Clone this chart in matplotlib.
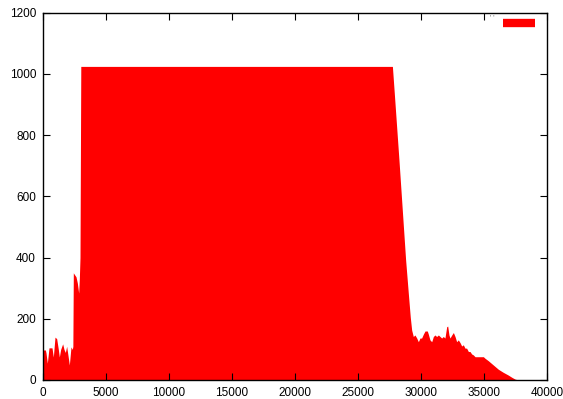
import matplotlib

matplotlib.use("Agg")
import matplotlib.pyplot as plt

# Profile sampled along the run: position vs. count (saturates at 1024).
pos = [
    0, 80, 190, 240, 344, 476, 714, 820, 952, 1085, 1217, 1296, 1402,
    1561, 1667, 1772, 1878, 2037, 2090, 2222, 2328, 2370, 2407, 2487,
    2619, 2725, 2831, 2884, 2937, 3000, 3040,
    27730, 27880, 28250, 28780, 29000, 29150, 29260, 29390, 29520,
    29660, 29790, 29920, 30050, 30190, 30320, 30500, 30580, 30710,
    30850, 30980, 31110, 31240, 31380, 31510, 31640, 31770, 31900,
    32040, 32120, 32220, 32300, 32440, 32570, 32700, 32830, 32960,
    33100, 33230, 33360, 33490, 33620, 33760, 33890, 34020, 34150,
    34290, 34950, 35080, 35340, 35740, 36140, 36530, 36930, 37200,
    37460, 37720,
]
count = [
    98, 98, 98, 88, 55, 105, 105, 75, 140, 135, 100, 75, 100,
    118, 100, 90, 110, 65, 49, 108, 100, 110, 350, 345,
    337, 317, 284, 330, 400, 1024, 1024,
    1024, 937, 719, 392, 280, 205, 163, 142, 147,
    137, 125, 137, 137, 150, 160, 160, 150, 131,
    125, 142, 147, 142, 147, 142, 137, 142, 137,
    174, 176, 147, 137, 147, 155, 142, 125, 131,
    122, 111, 115, 104, 104, 93, 93, 85, 82,
    76, 76, 71, 63, 49, 35, 25, 16, 9,
    3, 0,
]

x_ticks = [0, 5000, 10000, 15000, 20000, 25000, 30000, 35000, 40000]
y_ticks = [0, 200, 400, 600, 800, 1000, 1200]

plt.rcParams["font.family"] = ["Liberation Sans", "DejaVu Sans"]

fig = plt.figure(figsize=(5.63, 3.99), dpi=100)
ax = fig.add_axes([43 / 563, 19 / 399, 504 / 563, 367.5 / 399])

ax.fill_between(pos, count, 0, color="#ff0000", lw=0)

ax.set_xlim(0, 40000)
ax.set_ylim(0, 1200)
ax.set_xticks(x_ticks)
ax.set_yticks(y_ticks)
ax.tick_params(direction="in", length=5, width=0.8, labelsize=8.5,
               top=True, right=True, pad=5, colors="black")
for s in ax.spines.values():
    s.set_linewidth(1.0)

# key in the upper right corner: empty-ish title plus a red sample
ax.plot([0.912, 0.977], [0.972, 0.972], transform=ax.transAxes,
        color="#ff0000", lw=6, solid_capstyle="butt")
ax.text(0.895, 0.985, "' '", transform=ax.transAxes, fontsize=5,
        color="#555555", ha="right", va="center")

fig.savefig("out.png", dpi=100)
